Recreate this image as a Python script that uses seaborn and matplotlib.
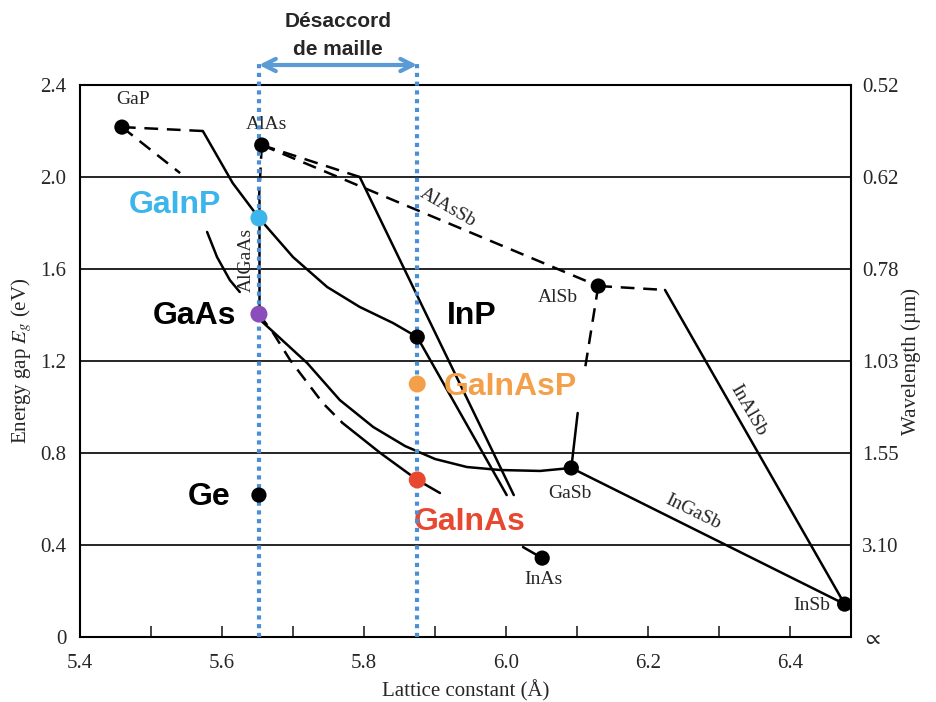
import numpy as np
import pandas as pd
import seaborn as sns
import matplotlib.pyplot as plt

# binary compounds (black dots): lattice constant (Å) and gap (eV)
binaries = ["GaP", "AlAs", "InP", "Ge", "AlSb", "GaSb", "InAs", "InSb"]
binary_a = [5.459, 5.656, 5.875, 5.652, 6.130, 6.092, 6.051, 6.477]
binary_eg = [2.217, 2.139, 1.304, 0.617, 1.526, 0.735, 0.343, 0.143]

# highlighted materials (coloured dots)
alloys = ["GaInP", "GaAs", "GaInAsP", "GaInAs"]
alloy_a = [5.652, 5.652, 5.875, 5.875]
alloy_eg = [1.822, 1.404, 1.100, 0.683]
alloy_colors = ["#3cb4ec", "#8a4dbb", "#f4a04b", "#e8482f"]

# lattice constants of the two substrates
match_a = [5.652, 5.875]

# ternary / quaternary curves
gainp_dash_a = [5.459, 5.573]
gainp_dash_eg = [2.217, 2.200]
gainp_a = [5.573, 5.615, 5.652, 5.663, 5.700, 5.748, 5.794, 5.841, 5.875]
gainp_eg = [2.200, 1.974, 1.822, 1.783, 1.652, 1.522, 1.435, 1.365, 1.304]

gaasp_dash_a = [5.459, 5.541]
gaasp_dash_eg = [2.217, 2.017]
gaasp_a = [5.579, 5.593, 5.611, 5.625]
gaasp_eg = [1.761, 1.652, 1.552, 1.500]

algaas_dash_a = [5.656, 5.652]
algaas_dash_eg = [2.139, 1.900]
algaas_a = [5.652, 5.652]
algaas_eg = [1.900, 1.404]

alinas_dash_a = [5.656, 5.794]
alinas_dash_eg = [2.139, 2.000]
alinas_a = [5.794, 6.011]
alinas_eg = [2.000, 0.617]
inas_end_a = [6.024, 6.051]
inas_end_eg = [0.391, 0.343]

alassb_a = [5.656, 6.130]
alassb_eg = [2.139, 1.526]

gaassb_a = [5.652, 5.654, 5.720, 5.766, 5.813, 5.858, 5.900, 5.945, 5.992, 6.048, 6.092]
gaassb_eg = [1.404, 1.378, 1.191, 1.030, 0.913, 0.830, 0.774, 0.739, 0.726, 0.722, 0.735]

gainas_dash_a = [5.652, 5.672, 5.696, 5.742, 5.770]
gainas_dash_eg = [1.404, 1.322, 1.204, 1.017, 0.930]
gainas_a = [5.770, 5.823, 5.875, 5.907]
gainas_eg = [0.930, 0.800, 0.683, 0.626]

inp_line_a = [5.875, 6.001]
inp_line_eg = [1.304, 0.617]

alsb_gasb_dash_a = [6.130, 6.111]
alsb_gasb_dash_eg = [1.526, 1.161]
alsb_gasb_a = [6.101, 6.092]
alsb_gasb_eg = [0.974, 0.735]

inalsb_dash_a = [6.130, 6.224]
inalsb_dash_eg = [1.526, 1.509]
inalsb_a = [6.224, 6.477]
inalsb_eg = [1.509, 0.143]

ingasb_a = [6.092, 6.477]
ingasb_eg = [0.735, 0.143]

eg_ticks = [0, 0.4, 0.8, 1.2, 1.6, 2.0, 2.4]
eg_labels = ["0", "0.4", "0.8", "1.2", "1.6", "2.0", "2.4"]
wl_labels = [r"$\propto$", "3.10", "1.55", "1.03", "0.78", "0.62", "0.52"]
a_ticks = [5.4, 5.5, 5.6, 5.7, 5.8, 5.9, 6.0, 6.1, 6.2, 6.3, 6.4]
a_labels = ["5.4", "", "5.6", "", "5.8", "", "6.0", "", "6.2", "", "6.4"]

sns.set_style("white")
plt.rcParams["font.family"] = ["Liberation Serif", "DejaVu Serif"]
plt.rcParams["mathtext.fontset"] = "stix"
plt.rcParams["lines.dashed_pattern"] = [5.5, 3.5]
plt.rcParams["xtick.bottom"] = True
plt.rcParams["xtick.direction"] = "in"
plt.rcParams["xtick.major.size"] = 8
plt.rcParams["xtick.major.width"] = 1.2

fig = plt.figure(figsize=(9.36, 7.02), dpi=100)
ax = fig.add_axes([0.0855, 0.0926, 0.8237, 0.7863])


def curve(a, eg, ls="-"):
    sns.lineplot(x=a, y=eg, sort=False, estimator=None, color="black",
                 lw=1.8, linestyle=ls, ax=ax, zorder=3)


curve(gainp_dash_a, gainp_dash_eg, "--")
curve(gainp_a, gainp_eg)
curve(gaasp_dash_a, gaasp_dash_eg, "--")
curve(gaasp_a, gaasp_eg)
curve(algaas_dash_a, algaas_dash_eg, "--")
curve(algaas_a, algaas_eg)
curve(alinas_dash_a, alinas_dash_eg, "--")
curve(alinas_a, alinas_eg)
curve(inas_end_a, inas_end_eg)
curve(alassb_a, alassb_eg, "--")
curve(gaassb_a, gaassb_eg)
curve(gainas_dash_a, gainas_dash_eg, "--")
curve(gainas_a, gainas_eg)
curve(inp_line_a, inp_line_eg)
curve(alsb_gasb_dash_a, alsb_gasb_dash_eg, "--")
curve(alsb_gasb_a, alsb_gasb_eg)
curve(inalsb_dash_a, inalsb_dash_eg, "--")
curve(inalsb_a, inalsb_eg)
curve(ingasb_a, ingasb_eg)

# lattice-matched vertical guides
for a in match_a:
    sns.lineplot(x=[a, a], y=[0, 2.51], sort=False, estimator=None,
                 color="#4a90d6", lw=3, linestyle=(0, (1, 1.1)),
                 dash_capstyle="butt", ax=ax, clip_on=False, zorder=4)

sns.scatterplot(x=binary_a, y=binary_eg, color="black", s=120,
                edgecolor="none", ax=ax, zorder=5)
sns.scatterplot(x=alloy_a, y=alloy_eg, hue=alloys, palette=alloy_colors,
                s=150, edgecolor="none", legend=False, ax=ax, zorder=6)

# mismatch arrow and caption
ax.annotate("", xy=(match_a[1], 2.487), xytext=(match_a[0], 2.487),
            arrowprops=dict(arrowstyle="<->", color="#5b9bd5", lw=3,
                            mutation_scale=22, shrinkA=0, shrinkB=0),
            annotation_clip=False)
ax.text(5.763, 2.675, "Désaccord", ha="center", va="center",
        family="Liberation Sans", fontweight="bold", fontsize=15)
ax.text(5.763, 2.555, "de maille", ha="center", va="center",
        family="Liberation Sans", fontweight="bold", fontsize=15)

# small serif labels
small = dict(fontsize=14, ha="center", va="center")
ax.text(5.475, 2.335, "GaP", **small)
ax.text(5.663, 2.230, "AlAs", **small)
ax.text(6.073, 1.474, "AlSb", **small)
ax.text(6.090, 0.626, "GaSb", **small)
ax.text(6.052, 0.248, "InAs", **small)
ax.text(6.431, 0.139, "InSb", **small)
ax.text(5.634, 1.639, "AlGaAs", rotation=90, **small)
ax.text(5.918, 1.865, "AlAsSb", rotation=-30, **small)
ax.text(6.341, 0.987, "InAlSb", rotation=-60, **small)
ax.text(6.263, 0.543, "InGaSb", rotation=-26, **small)

# big highlighted labels
big = dict(fontsize=23, fontweight="bold", family="Liberation Sans",
           ha="center", va="center")
ax.text(5.534, 1.878, "GaInP", color=alloy_colors[0], **big)
ax.text(5.561, 1.396, "GaAs", color="black", **big)
ax.text(5.952, 1.396, "InP", color="black", **big)
ax.text(6.006, 1.087, "GaInAsP", color=alloy_colors[2], **big)
ax.text(5.949, 0.500, "GaInAs", color=alloy_colors[3], **big)
ax.text(5.582, 0.609, "Ge", color="black", **big)

ax.set_xlim(5.4, 6.486)
ax.set_ylim(0, 2.4)
ax.set_xticks(a_ticks)
ax.set_xticklabels(a_labels, fontsize=15)
ax.tick_params(axis="x", pad=12)
ax.set_yticks(eg_ticks)
ax.set_yticklabels(eg_labels, fontsize=15)
ax.tick_params(axis="y", length=0, pad=10)
ax.yaxis.grid(True, color="black", lw=1.2)
for sp in ax.spines.values():
    sp.set_color("black")
    sp.set_linewidth(1.5)

ax.set_xlabel("Lattice constant (Å)", fontsize=15, labelpad=5)
ax.set_ylabel("Energy gap $E_g$ (eV)", fontsize=15, labelpad=4)

ax2 = ax.twinx()
ax2.set_ylim(0, 2.4)
ax2.set_yticks(eg_ticks)
ax2.set_yticklabels(wl_labels, fontsize=15)
ax2.tick_params(axis="y", length=0, pad=8)
ax2.set_ylabel("Wavelength (µm)", fontsize=15, labelpad=2)
for sp in ax2.spines.values():
    sp.set_visible(False)

fig.savefig("out.png", dpi=100)
